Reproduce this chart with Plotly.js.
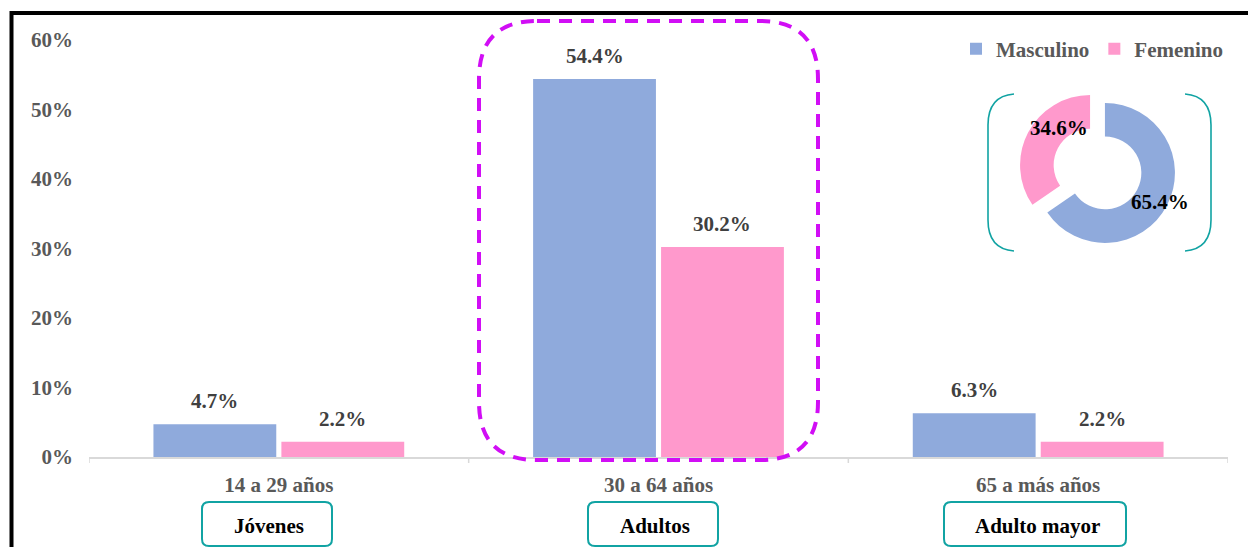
<!DOCTYPE html>
<html>
<head>
<meta charset="utf-8">
<script src="https://cdn.plot.ly/plotly-3.0.1.min.js"></script>
<style>html,body{margin:0;padding:0;background:#fff;}#chart{width:1248px;height:547px;}</style>
</head>
<body>
<div id="chart"></div>
<script>
// ---- data ----
const categories = ["14 a 29 años", "30 a 64 años", "65 a más años"];
const groupNames = ["Jóvenes", "Adultos", "Adulto mayor"];
const masculino = [0.047, 0.544, 0.063];
const femenino = [0.022, 0.302, 0.022];
const seriesNames = ["Masculino", "Femenino"];
const totalShare = [65.4, 34.6];
const yTickVals = [0, 0.1, 0.2, 0.3, 0.4, 0.5, 0.6];
const yTickText = ["0%", "10%", "20%", "30%", "40%", "50%", "60%"];

// ---- style ----
const FONT = "Liberation Serif, Times New Roman, serif";
const BLUE = "#8FAADC", PINK = "#FF99CC", TEAL = "#11A3A3", MAGENTA = "#D10EF5";
const W = 1248, H = 547, L = 89, R = 20, T = 40, B = 90;
const PW = W - L - R, PH = H - T - B;
const px = x => (x - L) / PW;
const py = y => (H - B - y) / PH;
const BARGAP = 0.326;
const off = (1 - BARGAP) / 4;
const pct = v => (v * 100).toFixed(1) + "%";

const xIdx = categories.map((c, i) => i);

const traces = [
  {type: "bar", name: seriesNames[0], x: xIdx, y: masculino, marker: {color: BLUE}, hoverinfo: "skip"},
  {type: "bar", name: seriesNames[1], x: xIdx, y: femenino, marker: {color: PINK}, hoverinfo: "skip"},
  {type: "pie", values: totalShare, labels: seriesNames, marker: {colors: [BLUE, PINK]},
   hole: 0.52, pull: [0.12, 0.12], sort: false, direction: "clockwise", rotation: 0,
   textinfo: "none", showlegend: false, hoverinfo: "skip",
   domain: {x: [px(1097.5 - 78.4), px(1097.5 + 78.4)], y: [py(169 + 78.4), py(169 - 78.4)]}}
];

const annotations = [];
const lab = (x, y, xref, yref, text, color, extra) => Object.assign({x, y, xref, yref, text, showarrow: false,
  xanchor: "center", yanchor: "middle", font: {family: FONT, size: 21, color, weight: 700}}, extra || {});
xIdx.forEach(i => {
  annotations.push(lab(i - off, masculino[i], "x", "y", pct(masculino[i]), "#404040", {yshift: 23}));
  annotations.push(lab(i + off, femenino[i], "x", "y", pct(femenino[i]), "#404040", {yshift: 23}));
});
// donut labels
annotations.push(lab(px(1059), py(128), "paper", "paper", totalShare[1].toFixed(1) + "%", "#000"));
annotations.push(lab(px(1160), py(202), "paper", "paper", totalShare[0].toFixed(1) + "%", "#000"));

// group boxes
const boxes = [[202, 332], [588, 718], [944, 1126]];
const shapes = [];
boxes.forEach((b, i) => {
  const x0 = b[0], x1 = b[1], y0 = 502, y1 = 546, r = 7;
  const p = `M ${px(x0 + r)},${py(y0)} L ${px(x1 - r)},${py(y0)} Q ${px(x1)},${py(y0)} ${px(x1)},${py(y0 + r)} ` +
    `L ${px(x1)},${py(y1 - r)} Q ${px(x1)},${py(y1)} ${px(x1 - r)},${py(y1)} L ${px(x0 + r)},${py(y1)} ` +
    `Q ${px(x0)},${py(y1)} ${px(x0)},${py(y1 - r)} L ${px(x0)},${py(y0 + r)} Q ${px(x0)},${py(y0)} ${px(x0 + r)},${py(y0)} Z`;
  shapes.push({type: "path", xref: "paper", yref: "paper", path: p, line: {color: TEAL, width: 2}, fillcolor: "rgba(0,0,0,0)"});
  annotations.push(lab(px((x0 + x1) / 2 + 2), py(526), "paper", "paper", groupNames[i], "#000"));
});

// magenta dashed rounded rectangle
(function () {
  const x0 = 479, x1 = 818, y0 = 21, y1 = 460, r = 58;
  const p = `M ${px(x0 + r)},${py(y0)} L ${px(x1 - r)},${py(y0)} Q ${px(x1)},${py(y0)} ${px(x1)},${py(y0 + r)} ` +
    `L ${px(x1)},${py(y1 - r)} Q ${px(x1)},${py(y1)} ${px(x1 - r)},${py(y1)} L ${px(x0 + r)},${py(y1)} ` +
    `Q ${px(x0)},${py(y1)} ${px(x0)},${py(y1 - r)} L ${px(x0)},${py(y0 + r)} Q ${px(x0)},${py(y0)} ${px(x0 + r)},${py(y0)} Z`;
  shapes.push({type: "path", xref: "paper", yref: "paper", path: p, line: {color: MAGENTA, width: 4, dash: "13px,9px"}, fillcolor: "rgba(0,0,0,0)", layer: "above"});
})();

// teal brackets around donut
shapes.push({type: "path", xref: "paper", yref: "paper", line: {color: TEAL, width: 1.6},
  path: `M ${px(1014)},${py(94)} Q ${px(988)},${py(96)} ${px(988)},${py(125)} L ${px(988)},${py(220)} Q ${px(988)},${py(249)} ${px(1014)},${py(251)}`});
shapes.push({type: "path", xref: "paper", yref: "paper", line: {color: TEAL, width: 1.6},
  path: `M ${px(1185)},${py(94)} Q ${px(1211)},${py(96)} ${px(1211)},${py(125)} L ${px(1211)},${py(220)} Q ${px(1211)},${py(249)} ${px(1185)},${py(251)}`});

// black outer frame
shapes.push({type: "path", xref: "paper", yref: "paper", line: {color: "#000", width: 4},
  path: `M ${px(11.5)},${py(600)} L ${px(11.5)},${py(13)} L ${px(1300)},${py(13)}`});

// category boundary tick marks on x axis
[-0.5, 0.5, 1.5, 2.5].forEach(b => {
  shapes.push({type: "line", xref: "x", yref: "paper", x0: b, x1: b, y0: 0, y1: py(463), line: {color: "#D9D9D9", width: 1.5}});
});

const layout = {
  width: W, height: H,
  margin: {l: L, r: R, t: T, b: B, pad: 0},
  paper_bgcolor: "#fff", plot_bgcolor: "#fff",
  barmode: "group", bargap: BARGAP, bargroupgap: 0.04,
  font: {family: FONT, size: 21, color: "#595959", weight: 700},
  showlegend: true,
  legend: {orientation: "h", x: px(1228), xanchor: "right", y: py(49), yanchor: "middle",
    font: {family: FONT, size: 21, color: "#595959", weight: 700}, bgcolor: "rgba(0,0,0,0)",
    itemclick: false, tracegroupgap: 0},
  xaxis: {type: "linear", range: [-0.5, 2.5], tickvals: xIdx, ticktext: categories,
    showgrid: false, zeroline: false, showline: true, linecolor: "#D9D9D9", linewidth: 1.5,
    ticks: "", ticklabelstandoff: 8,
    tickfont: {family: FONT, size: 21, color: "#595959", weight: 700}},
  yaxis: {range: [0, 0.6], tickvals: yTickVals, ticktext: yTickText, showgrid: false, zeroline: false,
    showline: false, ticks: "", ticklabelstandoff: 15,
    tickfont: {family: FONT, size: 21, color: "#595959", weight: 700}},
  shapes: shapes,
  annotations: annotations
};

Plotly.newPlot("chart", traces, layout, {displayModeBar: false, staticPlot: true});
</script>
</body>
</html>
